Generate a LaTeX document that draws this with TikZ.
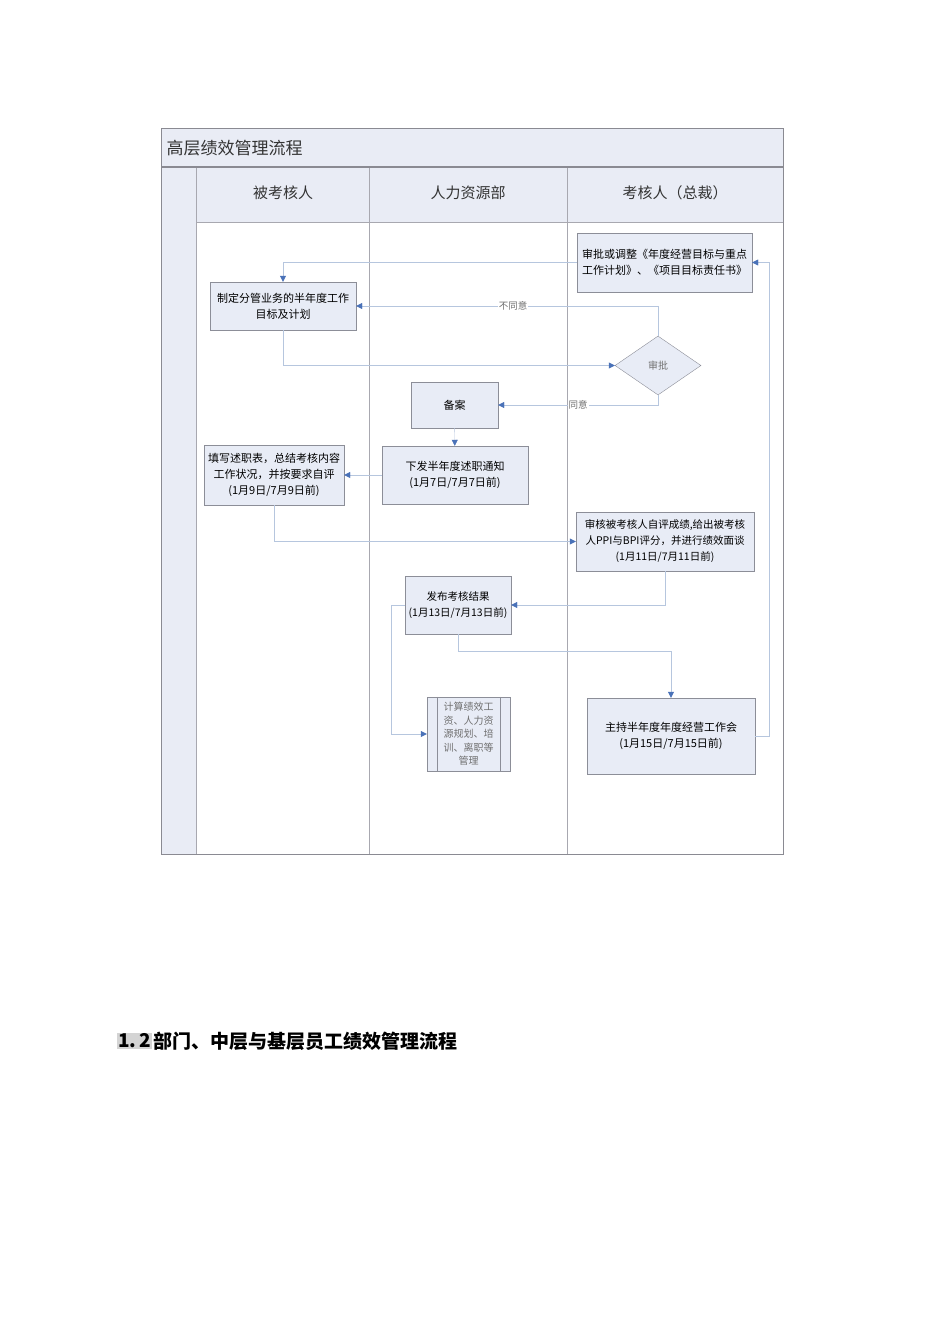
\documentclass[tikz,border=0pt]{standalone}
\usepackage{fontspec}
\setmainfont{Noto Sans CJK SC}
\usetikzlibrary{arrows.meta,shapes.geometric}
\definecolor{boxfill}{HTML}{E8ECF6}
\definecolor{boxline}{HTML}{8C8E98}
\definecolor{hdrfill}{HTML}{E9ECF5}
\definecolor{frameline}{HTML}{8A8A92}
\definecolor{laneline}{HTML}{A8A8B0}
\definecolor{flowline}{HTML}{B6C6DE}
\definecolor{arrowc}{HTML}{4A72B8}
\definecolor{notec}{HTML}{707070}
\definecolor{hilite}{HTML}{D4D4D4}

\tikzset{
  task/.style={draw=boxline, fill=boxfill, align=center, inner sep=2pt,
    font=\fontsize{11}{16}\selectfont},
  decision/.style={draw=boxline, fill=boxfill, shape=diamond, inner sep=0pt,
    font=\fontsize{10}{12}\selectfont, text=notec},
  flow/.style={draw=flowline, -{Triangle[length=6pt,width=6pt,color=arrowc,fill=arrowc]}},
  note/.style={font=\fontsize{9.5}{11}\selectfont, text=notec, fill=white, inner sep=1pt},
  lanehead/.style={font=\fontsize{15}{18}\selectfont, text=black!80},
}

\begin{document}
\begin{tikzpicture}[x=1pt,y=-1pt]
  \useasboundingbox[fill=white] (0,0) rectangle (950,1344);
  % pool and lanes
  \fill[hdrfill] (161,128) rectangle (783,222);
  \fill[hdrfill] (161,167) rectangle (196,854);
  \draw[laneline] (196,222) -- (783,222);
  \foreach \lx in {196,369,567}
    \draw[laneline] (\lx,167) -- (\lx,854);
  \draw[frameline, line width=1.2pt] (161,167) -- (783,167);
  \draw[frameline] (161,128) rectangle (783,854);
  \node[anchor=west, font=\fontsize{17}{20}\selectfont, text=black!80] (pooltitle) at (163,148) {高层绩效管理流程};
  \node[lanehead] (laneA) at (283,193) {被考核人};
  \node[lanehead] (laneB) at (468,193) {人力资源部};
  \node[lanehead] (laneC) at (675,193) {考核人（总裁）};

  % steps
  \node[task, minimum width=175pt, minimum height=59pt] (adjust) at (664.5,262.5) {审批或调整《年度经营目标与重点\\工作计划》、《项目目标责任书》};
  \node[task, minimum width=146pt, minimum height=48pt] (plan) at (283,306) {制定分管业务的半年度工作\\目标及计划};
  \node[decision, minimum width=86pt, minimum height=59pt] (decide) at (658,365.5) {审批};
  \node[task, minimum width=87pt, minimum height=46pt] (file) at (454.5,405) {备案};
  \node[task, minimum width=146pt, minimum height=58pt] (notice) at (455,475) {下发半年度述职通知\\(1月7日/7月7日前)};
  \node[task, minimum width=140pt, minimum height=60pt] (report) at (274,475) {填写述职表，总结考核内容\\工作状况，并按要求自评\\(1月9日/7月9日前)};
  \node[task, minimum width=178pt, minimum height=59pt, font=\fontsize{10.5}{16}\selectfont] (review) at (665,541.5) {审核被考核人自评成绩,给出被考核\\人PPI与BPI评分，并进行绩效面谈\\(1月11日/7月11日前)};
  \node[task, minimum width=106pt, minimum height=58pt, font=\fontsize{10.5}{16}\selectfont] (publish) at (458,605) {发布考核结果\\(1月13日/7月13日前)};
  \node[task, minimum width=83pt, minimum height=74pt, text=notec, font=\fontsize{10}{13.5}\selectfont] (calc) at (468.5,734) {计算绩效工\\资、人力资\\源规划、培\\训、离职等\\管理};
  \draw[boxline] ([xshift=10pt]calc.north west) -- ([xshift=10pt]calc.south west);
  \draw[boxline] ([xshift=-10pt]calc.north east) -- ([xshift=-10pt]calc.south east);
  \node[task, minimum width=168pt, minimum height=76pt] (meeting) at (671,736) {主持半年度年度经营工作会\\(1月15日/7月15日前)};

  % connectors
  \draw[flow] (adjust.west) -| (plan.north);
  \draw[flow] (decide.north) |- node[note, pos=0.74] {不同意} (plan.east);
  \draw[flow] (plan.south) |- (decide.west);
  \draw[flow] (decide.south) |- node[note, pos=0.75] {同意} (file.east);
  \draw[flow] (file) -- (notice);
  \draw[flow] (notice) -- (report);
  \draw[flow] (report.south) |- (review.west);
  \draw[flow] (review.south) |- (publish.east);
  \draw[flow] (publish.west) -- ++(-14,0) |- (calc.west);
  \draw[flow] (publish.south) -- ++(0,17) -| (meeting.north);
  \draw[flow] (meeting.east) -- ++(14,0) |- (adjust.east);

  % section heading below
  \node[anchor=west, fill=hilite, inner sep=1pt, font=\fontsize{19}{21}\selectfont\bfseries] (secnum) at (117,1041) {1.\,2};
  \node[anchor=west, inner sep=1pt, font=\fontsize{19}{21}\selectfont\bfseries] (sectitle) at (secnum.east) {部门、中层与基层员工绩效管理流程};
\end{tikzpicture}
\end{document}
